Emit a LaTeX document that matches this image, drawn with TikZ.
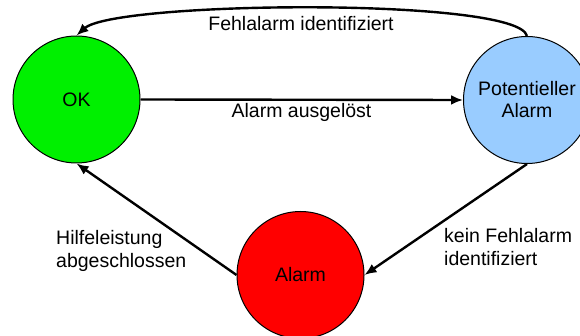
\documentclass[tikz,border=0pt]{standalone}
\usepackage{fontspec}
\setmainfont{Liberation Sans}
\usetikzlibrary{arrows.meta}
\begin{document}
\begin{tikzpicture}[x=1pt,y=-1pt,
  state/.style={circle, draw=black, line width=1pt, minimum size=127pt, inner sep=0pt, align=center, font=\fontsize{19.5}{22}\selectfont},
  lbl/.style={font=\fontsize{19.5}{22.5}\selectfont, inner sep=0pt},
  conn/.style={line width=2.4pt, -{Latex[length=12pt,width=10pt]}}]
\useasboundingbox (0,0) rectangle (580,336);
\node[state, fill={rgb,255:red,0;green,240;blue,0}] (ok) at (76.5,99.5) {OK};
\node[state, fill={rgb,255:red,153;green,204;blue,255}] (pot) at (527,100) {Potentieller\\Alarm};
\node[state, fill={rgb,255:red,255;green,0;blue,0}] (alarm) at (300.5,275) {Alarm};
\draw[conn] (ok.east) -- (pot.west);
\draw[conn] (pot.north) .. controls (518,-3) and (115,1) .. (ok.north);
\draw[conn] (pot.south) -- (alarm.east);
\draw[conn] (alarm.west) -- (ok.south);
\node[lbl] (l1) at (301,24) {Fehlalarm identifiziert};
\node[lbl] (l2) at (301.5,112) {Alarm ausgelöst};
\node[lbl, anchor=west, align=left] (l3) at (56,251) {Hilfeleistung\\abgeschlossen};
\node[lbl, anchor=west, align=left] (l4) at (444,247) {kein Fehlalarm\\identifiziert};
\end{tikzpicture}
\end{document}
